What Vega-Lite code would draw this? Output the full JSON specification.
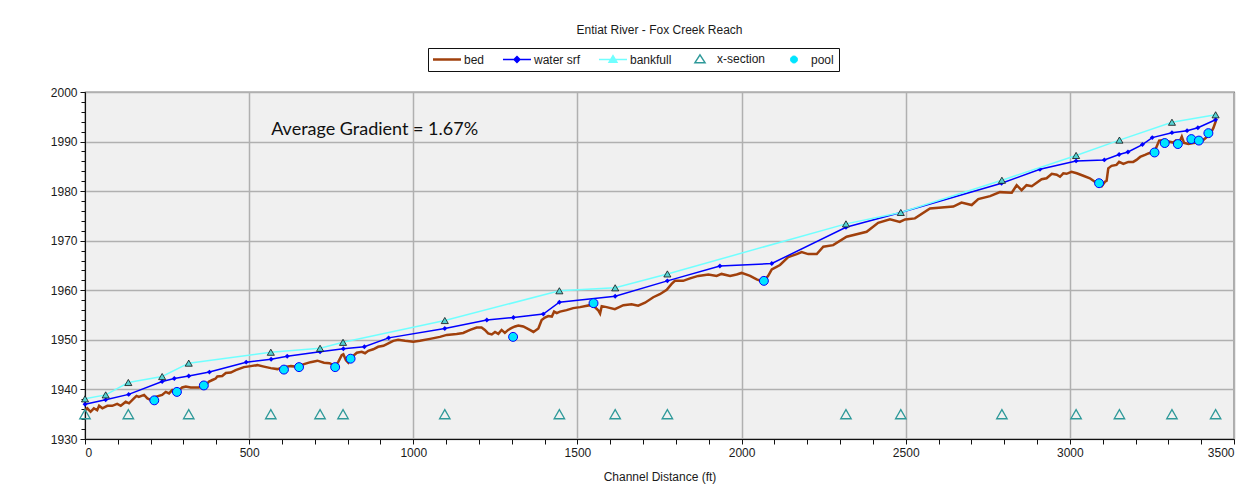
{
  "$schema": "https://vega.github.io/schema/vega-lite/v6.json",
  "autosize": {"type": "none"},
  "width": 1149,
  "height": 347,
  "padding": {"left": 85, "top": 92, "right": 16, "bottom": 54},
  "background": "#ffffff",
  "title": {"text": "Entiat River - Fox Creek Reach", "font": "Liberation Sans", "fontSize": 12, "fontWeight": "normal", "color": "#1a1a1a", "anchor": "middle", "offset": 11},
  "config": {
    "view": {"fill": "#f0f0f0", "stroke": "#111111", "strokeWidth": 1.2},
    "axis": {"labelFont": "Liberation Sans", "labelFontSize": 12, "labelColor": "#1a1a1a", "titleFont": "Liberation Sans", "titleFontSize": 12, "titleFontWeight": "normal", "titleColor": "#1a1a1a", "domainColor": "#111111", "tickColor": "#111111", "gridColor": "#b0b0b0", "gridWidth": 1.5, "labelOverlap": false}
  },
  "data": {"values": [
    {"s":"bed","x":0,"y":1935.8},{"s":"bed","x":7,"y":1936.2},{"s":"bed","x":17,"y":1935.5},{"s":"bed","x":27,"y":1936.2},{"s":"bed","x":37,"y":1935.8},{"s":"bed","x":43,"y":1936.7},{"s":"bed","x":53,"y":1936.2},{"s":"bed","x":68,"y":1936.7},{"s":"bed","x":83,"y":1936.7},{"s":"bed","x":98,"y":1937.1},{"s":"bed","x":109,"y":1936.7},{"s":"bed","x":124,"y":1937.5},{"s":"bed","x":134,"y":1937.2},{"s":"bed","x":149,"y":1938.2},{"s":"bed","x":157,"y":1938.7},{"s":"bed","x":164,"y":1938.5},{"s":"bed","x":180,"y":1938.9},{"s":"bed","x":190,"y":1938.2},{"s":"bed","x":200,"y":1937.9},{"s":"bed","x":215,"y":1938.5},{"s":"bed","x":235,"y":1938.9},{"s":"bed","x":246,"y":1939.5},{"s":"bed","x":256,"y":1939.2},{"s":"bed","x":266,"y":1939.9},{"s":"bed","x":281,"y":1939.5},{"s":"bed","x":296,"y":1940.4},{"s":"bed","x":307,"y":1940.6},{"s":"bed","x":322,"y":1940.4},{"s":"bed","x":347,"y":1940.4},{"s":"bed","x":368,"y":1940.9},{"s":"bed","x":378,"y":1941.6},{"s":"bed","x":388,"y":1941.9},{"s":"bed","x":398,"y":1942.2},{"s":"bed","x":403,"y":1942.6},{"s":"bed","x":418,"y":1942.7},{"s":"bed","x":429,"y":1943.3},{"s":"bed","x":444,"y":1943.4},{"s":"bed","x":459,"y":1943.9},{"s":"bed","x":484,"y":1944.5},{"s":"bed","x":505,"y":1944.7},{"s":"bed","x":525,"y":1944.9},{"s":"bed","x":545,"y":1944.6},{"s":"bed","x":566,"y":1944.3},{"s":"bed","x":586,"y":1944.1},{"s":"bed","x":606,"y":1944.5},{"s":"bed","x":627,"y":1944.7},{"s":"bed","x":647,"y":1944.6},{"s":"bed","x":667,"y":1945.1},{"s":"bed","x":687,"y":1945.5},{"s":"bed","x":708,"y":1945.8},{"s":"bed","x":728,"y":1945.4},{"s":"bed","x":745,"y":1945.3},{"s":"bed","x":762,"y":1944.7},{"s":"bed","x":772,"y":1945.6},{"s":"bed","x":782,"y":1946.9},{"s":"bed","x":787,"y":1947.1},{"s":"bed","x":795,"y":1945.9},{"s":"bed","x":802,"y":1945.4},{"s":"bed","x":812,"y":1946.5},{"s":"bed","x":828,"y":1947.4},{"s":"bed","x":843,"y":1947.6},{"s":"bed","x":853,"y":1947.3},{"s":"bed","x":863,"y":1947.8},{"s":"bed","x":878,"y":1948.1},{"s":"bed","x":893,"y":1948.6},{"s":"bed","x":909,"y":1948.8},{"s":"bed","x":924,"y":1949.3},{"s":"bed","x":939,"y":1949.8},{"s":"bed","x":954,"y":1950.0},{"s":"bed","x":975,"y":1949.8},{"s":"bed","x":1000,"y":1949.6},{"s":"bed","x":1020,"y":1949.8},{"s":"bed","x":1051,"y":1950.2},{"s":"bed","x":1081,"y":1950.6},{"s":"bed","x":1102,"y":1951.0},{"s":"bed","x":1132,"y":1951.2},{"s":"bed","x":1152,"y":1951.4},{"s":"bed","x":1173,"y":1952.0},{"s":"bed","x":1193,"y":1952.5},{"s":"bed","x":1208,"y":1952.5},{"s":"bed","x":1218,"y":1952.0},{"s":"bed","x":1228,"y":1951.3},{"s":"bed","x":1239,"y":1951.1},{"s":"bed","x":1249,"y":1951.6},{"s":"bed","x":1259,"y":1951.2},{"s":"bed","x":1269,"y":1952.0},{"s":"bed","x":1279,"y":1951.4},{"s":"bed","x":1289,"y":1952.0},{"s":"bed","x":1300,"y":1952.4},{"s":"bed","x":1310,"y":1952.7},{"s":"bed","x":1320,"y":1952.9},{"s":"bed","x":1335,"y":1952.7},{"s":"bed","x":1355,"y":1952.0},{"s":"bed","x":1366,"y":1951.6},{"s":"bed","x":1381,"y":1952.3},{"s":"bed","x":1391,"y":1954.0},{"s":"bed","x":1401,"y":1954.5},{"s":"bed","x":1411,"y":1954.8},{"s":"bed","x":1422,"y":1954.7},{"s":"bed","x":1429,"y":1955.7},{"s":"bed","x":1437,"y":1955.4},{"s":"bed","x":1447,"y":1955.7},{"s":"bed","x":1467,"y":1956.0},{"s":"bed","x":1487,"y":1956.4},{"s":"bed","x":1508,"y":1956.6},{"s":"bed","x":1538,"y":1957.0},{"s":"bed","x":1553,"y":1956.6},{"s":"bed","x":1564,"y":1955.9},{"s":"bed","x":1569,"y":1955.3},{"s":"bed","x":1574,"y":1956.8},{"s":"bed","x":1589,"y":1956.6},{"s":"bed","x":1614,"y":1956.2},{"s":"bed","x":1640,"y":1957.0},{"s":"bed","x":1665,"y":1957.2},{"s":"bed","x":1685,"y":1956.9},{"s":"bed","x":1706,"y":1957.5},{"s":"bed","x":1731,"y":1958.6},{"s":"bed","x":1751,"y":1959.2},{"s":"bed","x":1772,"y":1960.1},{"s":"bed","x":1787,"y":1961.3},{"s":"bed","x":1797,"y":1961.9},{"s":"bed","x":1822,"y":1961.9},{"s":"bed","x":1843,"y":1962.4},{"s":"bed","x":1868,"y":1962.9},{"s":"bed","x":1899,"y":1963.2},{"s":"bed","x":1924,"y":1962.9},{"s":"bed","x":1939,"y":1963.3},{"s":"bed","x":1965,"y":1962.9},{"s":"bed","x":1985,"y":1963.2},{"s":"bed","x":2000,"y":1963.5},{"s":"bed","x":2026,"y":1962.9},{"s":"bed","x":2046,"y":1962.2},{"s":"bed","x":2066,"y":1961.7},{"s":"bed","x":2081,"y":1962.9},{"s":"bed","x":2092,"y":1964.2},{"s":"bed","x":2117,"y":1965.1},{"s":"bed","x":2142,"y":1966.7},{"s":"bed","x":2168,"y":1967.3},{"s":"bed","x":2183,"y":1967.7},{"s":"bed","x":2203,"y":1967.3},{"s":"bed","x":2229,"y":1967.3},{"s":"bed","x":2249,"y":1968.8},{"s":"bed","x":2279,"y":1969.1},{"s":"bed","x":2320,"y":1970.8},{"s":"bed","x":2381,"y":1971.8},{"s":"bed","x":2416,"y":1973.6},{"s":"bed","x":2452,"y":1974.3},{"s":"bed","x":2482,"y":1973.8},{"s":"bed","x":2498,"y":1974.3},{"s":"bed","x":2528,"y":1974.5},{"s":"bed","x":2574,"y":1976.5},{"s":"bed","x":2645,"y":1976.9},{"s":"bed","x":2670,"y":1977.7},{"s":"bed","x":2701,"y":1977.2},{"s":"bed","x":2721,"y":1978.4},{"s":"bed","x":2757,"y":1979.0},{"s":"bed","x":2787,"y":1979.8},{"s":"bed","x":2823,"y":1979.7},{"s":"bed","x":2838,"y":1981.2},{"s":"bed","x":2853,"y":1980.2},{"s":"bed","x":2868,"y":1981.2},{"s":"bed","x":2884,"y":1981.0},{"s":"bed","x":2914,"y":1982.4},{"s":"bed","x":2929,"y":1982.6},{"s":"bed","x":2945,"y":1983.5},{"s":"bed","x":2960,"y":1983.3},{"s":"bed","x":2970,"y":1982.9},{"s":"bed","x":2980,"y":1983.6},{"s":"bed","x":2990,"y":1983.5},{"s":"bed","x":3005,"y":1983.9},{"s":"bed","x":3021,"y":1983.6},{"s":"bed","x":3041,"y":1983.1},{"s":"bed","x":3061,"y":1982.6},{"s":"bed","x":3076,"y":1981.9},{"s":"bed","x":3090,"y":1981.2},{"s":"bed","x":3097,"y":1981.0},{"s":"bed","x":3107,"y":1981.9},{"s":"bed","x":3112,"y":1982.1},{"s":"bed","x":3117,"y":1984.6},{"s":"bed","x":3127,"y":1985.1},{"s":"bed","x":3142,"y":1985.3},{"s":"bed","x":3150,"y":1985.9},{"s":"bed","x":3163,"y":1985.5},{"s":"bed","x":3178,"y":1985.9},{"s":"bed","x":3193,"y":1985.9},{"s":"bed","x":3203,"y":1986.3},{"s":"bed","x":3214,"y":1986.9},{"s":"bed","x":3229,"y":1987.3},{"s":"bed","x":3239,"y":1987.6},{"s":"bed","x":3249,"y":1987.8},{"s":"bed","x":3262,"y":1988.6},{"s":"bed","x":3272,"y":1990.2},{"s":"bed","x":3287,"y":1990.3},{"s":"bed","x":3300,"y":1990.0},{"s":"bed","x":3315,"y":1989.8},{"s":"bed","x":3323,"y":1990.2},{"s":"bed","x":3333,"y":1989.8},{"s":"bed","x":3341,"y":1991.0},{"s":"bed","x":3348,"y":1989.7},{"s":"bed","x":3361,"y":1989.5},{"s":"bed","x":3376,"y":1989.7},{"s":"bed","x":3391,"y":1989.8},{"s":"bed","x":3406,"y":1990.3},{"s":"bed","x":3417,"y":1990.9},{"s":"bed","x":3427,"y":1991.5},{"s":"bed","x":3437,"y":1992.7},{"s":"bed","x":3445,"y":1994.2},

    {"s":"water srf","x":0,"y":1937.0},{"s":"water srf","x":63,"y":1937.9},{"s":"water srf","x":133,"y":1939.0},{"s":"water srf","x":235,"y":1941.6},{"s":"water srf","x":272,"y":1942.2},{"s":"water srf","x":316,"y":1942.7},{"s":"water srf","x":379,"y":1943.5},{"s":"water srf","x":491,"y":1945.5},{"s":"water srf","x":567,"y":1946.1},{"s":"water srf","x":616,"y":1946.7},{"s":"water srf","x":716,"y":1947.6},{"s":"water srf","x":787,"y":1948.2},{"s":"water srf","x":851,"y":1948.6},{"s":"water srf","x":925,"y":1950.4},{"s":"water srf","x":1096,"y":1952.3},{"s":"water srf","x":1224,"y":1954.0},{"s":"water srf","x":1305,"y":1954.5},{"s":"water srf","x":1396,"y":1955.2},{"s":"water srf","x":1445,"y":1957.6},{"s":"water srf","x":1615,"y":1958.8},{"s":"water srf","x":1774,"y":1961.9},{"s":"water srf","x":1934,"y":1964.9},{"s":"water srf","x":2092,"y":1965.4},{"s":"water srf","x":2318,"y":1972.7},{"s":"water srf","x":2485,"y":1975.7},{"s":"water srf","x":2792,"y":1981.6},{"s":"water srf","x":2909,"y":1984.4},{"s":"water srf","x":3019,"y":1986.1},{"s":"water srf","x":3105,"y":1986.3},{"s":"water srf","x":3150,"y":1987.4},{"s":"water srf","x":3177,"y":1987.9},{"s":"water srf","x":3221,"y":1989.4},{"s":"water srf","x":3251,"y":1990.8},{"s":"water srf","x":3311,"y":1991.8},{"s":"water srf","x":3357,"y":1992.2},{"s":"water srf","x":3390,"y":1992.8},{"s":"water srf","x":3444,"y":1994.4},

    {"s":"bankfull","x":0,"y":1938.1},{"s":"bankfull","x":63,"y":1938.9},{"s":"bankfull","x":132,"y":1941.4},{"s":"bankfull","x":235,"y":1942.6},{"s":"bankfull","x":316,"y":1945.3},{"s":"bankfull","x":566,"y":1947.5},{"s":"bankfull","x":716,"y":1948.3},{"s":"bankfull","x":786,"y":1949.5},{"s":"bankfull","x":1096,"y":1953.9},{"s":"bankfull","x":1445,"y":1959.9},{"s":"bankfull","x":1615,"y":1960.5},{"s":"bankfull","x":1774,"y":1963.3},{"s":"bankfull","x":2318,"y":1973.4},{"s":"bankfull","x":2485,"y":1975.7},{"s":"bankfull","x":2793,"y":1982.2},{"s":"bankfull","x":3019,"y":1987.2},{"s":"bankfull","x":3151,"y":1990.3},{"s":"bankfull","x":3311,"y":1993.9},{"s":"bankfull","x":3444,"y":1995.4},

    {"s":"x-section","x":0,"y":1935},{"s":"x-section","x":132,"y":1935},{"s":"x-section","x":316,"y":1935},{"s":"x-section","x":566,"y":1935},{"s":"x-section","x":716,"y":1935},{"s":"x-section","x":786,"y":1935},{"s":"x-section","x":1096,"y":1935},{"s":"x-section","x":1445,"y":1935},{"s":"x-section","x":1615,"y":1935},{"s":"x-section","x":1774,"y":1935},{"s":"x-section","x":2318,"y":1935},{"s":"x-section","x":2485,"y":1935},{"s":"x-section","x":2793,"y":1935},{"s":"x-section","x":3019,"y":1935},{"s":"x-section","x":3151,"y":1935},{"s":"x-section","x":3311,"y":1935},{"s":"x-section","x":3444,"y":1935},

    {"s":"pool","x":211,"y":1937.8},{"s":"pool","x":280,"y":1939.5},{"s":"pool","x":362,"y":1940.8},{"s":"pool","x":606,"y":1944.0},{"s":"pool","x":652,"y":1944.5},{"s":"pool","x":762,"y":1944.5},{"s":"pool","x":809,"y":1946.2},{"s":"pool","x":1304,"y":1950.6},{"s":"pool","x":1549,"y":1957.4},{"s":"pool","x":2068,"y":1961.9},{"s":"pool","x":3089,"y":1981.6},{"s":"pool","x":3258,"y":1987.8},{"s":"pool","x":3289,"y":1989.7},{"s":"pool","x":3329,"y":1989.5},{"s":"pool","x":3370,"y":1990.5},{"s":"pool","x":3393,"y":1990.2},{"s":"pool","x":3422,"y":1991.7}
  ]},
  "encoding": {
    "x": {"field": "x", "type": "quantitative", "title": "Channel Distance (ft)",
      "scale": {"domain": [0, 3500], "nice": false, "zero": false},
      "axis": {"values": [0,100,200,300,400,500,600,700,800,900,1000,1100,1200,1300,1400,1500,1600,1700,1800,1900,2000,2100,2200,2300,2400,2500,2600,2700,2800,2900,3000,3100,3200,3300,3400,3500],
        "format": "d", "labelExpr": "datum.value % 500 === 0 ? datum.label : ''",
        "gridOpacity": {"condition": {"test": "datum.value % 500 === 0", "value": 1}, "value": 0},
        "tickSize": 5, "labelPadding": 3, "titlePadding": 13}},
    "y": {"field": "y", "type": "quantitative", "title": null,
      "scale": {"domain": [1930, 2000], "nice": false, "zero": false},
      "axis": {"values": [1930,1932,1934,1936,1938,1940,1942,1944,1946,1948,1950,1952,1954,1956,1958,1960,1962,1964,1966,1968,1970,1972,1974,1976,1978,1980,1982,1984,1986,1988,1990,1992,1994,1996,1998,2000],
        "format": "d", "labelExpr": "datum.value % 10 === 0 ? datum.label : ''",
        "gridOpacity": {"condition": {"test": "datum.value % 10 === 0", "value": 1}, "value": 0},
        "tickSize": {"condition": {"test": "datum.value % 10 === 0", "value": 5}, "value": 4}, "labelPadding": 3}}
  },
  "layer": [
    {"transform": [{"filter": "datum.s === 'bed'"}],
     "mark": {"type": "line", "strokeWidth": 2.5},
     "encoding": {"color": {"field": "s", "type": "nominal",
        "scale": {"domain": ["bed", "water srf", "bankfull", "x-section", "pool"], "range": ["#a0400c", "#0000ff", "#70ffff", "#2e9999", "#00e5ff"]},
        "legend": {"title": null, "orient": "none", "legendX": 343, "legendY": -44, "direction": "horizontal",
          "strokeColor": "#111111", "fillColor": "#ffffff", "padding": 5, "columnPadding": 14, "labelOffset": 19,
          "labelFont": "Liberation Sans", "labelFontSize": 12, "labelColor": "#1a1a1a",
          "encode": {"symbols": {
            "update": {
            "size": {"value": 784},
            "shape": {"signal": "datum.value==='bed'?'M-0.43,0H1.57':datum.value==='water srf'?'M-0.43,0H1.57M0.57,-0.21L0.78,0L0.57,0.21L0.36,0Z':datum.value==='bankfull'?'M-0.43,0H1.57M0.57,-0.27L0.85,0.2L0.29,0.2Z':datum.value==='x-section'?'M0.57,-0.32L0.93,0.24L0.21,0.24Z':'M0.32,0A0.25,0.25,0,1,0,0.82,0A0.25,0.25,0,1,0,0.32,0Z'"},
            "fill": {"signal": "datum.value==='water srf'?'#0000ff':datum.value==='bankfull'?'#40c0c0':datum.value==='pool'?'#00e5ff':'#ffffff'"},
            "fillOpacity": {"signal": "datum.value==='bed'||datum.value==='x-section'?0:1"},
            "stroke": {"signal": "datum.value==='bed'?'#a0400c':datum.value==='water srf'?'#0000ff':datum.value==='bankfull'?'#70ffff':datum.value==='x-section'?'#2e9999':'#0000ff'"},
            "strokeWidth": {"signal": "datum.value==='bed'?2.5:datum.value==='pool'?1:1.5"},
            "opacity": {"value": 1}
          }}}}}}},
    {"transform": [{"filter": "datum.s === 'water srf'"}],
     "mark": {"type": "line", "strokeWidth": 1.5, "point": {"shape": "diamond", "filled": true, "size": 24, "color": "#0000ff"}},
     "encoding": {"color": {"field": "s", "type": "nominal"}}},
    {"transform": [{"filter": "datum.s === 'bankfull'"}],
     "mark": {"type": "line", "strokeWidth": 1.5},
     "encoding": {"color": {"field": "s", "type": "nominal"}}},
    {"transform": [{"filter": "datum.s === 'bankfull'"}],
     "mark": {"type": "point", "shape": "triangle-up", "filled": true, "fill": "#55d2d2", "stroke": "#111111", "strokeWidth": 0.8, "size": 50, "opacity": 1}},
    {"transform": [{"filter": "datum.s === 'x-section'"}],
     "mark": {"type": "point", "shape": "triangle-up", "filled": false, "stroke": "#2e9999", "strokeWidth": 1.3, "size": 110, "opacity": 1}},
    {"transform": [{"filter": "datum.s === 'pool'"}],
     "mark": {"type": "point", "shape": "circle", "filled": true, "fill": "#00e5ff", "stroke": "#0000ff", "strokeWidth": 1, "size": 80, "opacity": 1}},
    {"data": {"values": [{"x": 567, "y": 1992.3, "label": "Average Gradient = 1.67%"}]},
     "mark": {"type": "text", "align": "left", "baseline": "middle", "font": "Lato", "fontSize": 18, "color": "#111111"},
     "encoding": {"text": {"field": "label"}}}
  ]
}
